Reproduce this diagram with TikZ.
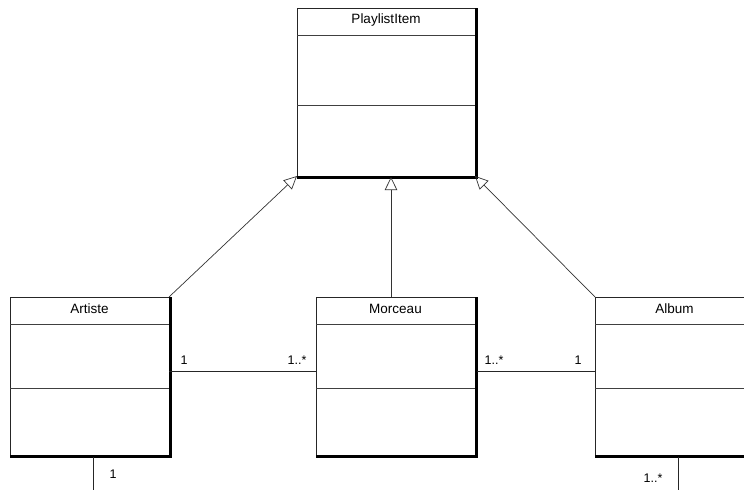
\documentclass[tikz,border=0pt]{standalone}
\usepackage{fontspec}
\setmainfont{Liberation Sans}
\usetikzlibrary{arrows.meta,calc}
\tikzset{
  cls/.style={draw=black!85, line width=0.8pt, fill=white, inner sep=0pt, outer sep=0pt,
              anchor=north west, minimum width=159pt, minimum height=158pt},
  shadowline/.style={line width=3pt, black},
  sepline/.style={draw=black!75, line width=0.8pt},
  title/.style={font=\fontsize{13.5}{15}\selectfont, inner sep=0pt, anchor=center},
  mult/.style={font=\fontsize{12.5}{14}\selectfont, inner sep=0pt},
  gen/.style={draw=black!80, line width=0.7pt, -{Triangle[open, length=13pt, width=12.5pt]}},
  assoc/.style={draw=black!85, line width=0.8pt}
}
% one class box: name, top-left corner, width, height, title, two compartment separators
\newcommand{\umlbox}[7]{%
  \node[cls, minimum width=#3pt, minimum height=#4pt] (#1) at (#2) {};
  \node[title] (#1-t) at ($(#1.north)+(0,-12pt)$) {#5};
  \draw[sepline] ($(#1.north west)+(0,-#6pt)$) -- ($(#1.north east)+(0,-#6pt)$);
  \draw[sepline] ($(#1.north west)+(0,-#7pt)$) -- ($(#1.north east)+(0,-#7pt)$);
  \draw[shadowline] ($(#1.north east)+(1pt,0)$) -- ($(#1.south east)+(1pt,-1pt)$)
                    -- ($(#1.south west)+(0,-1pt)$);
}
\begin{document}
\begin{tikzpicture}[x=1pt,y=-1pt]
\useasboundingbox (0,0) rectangle (744,490);
\clip (0,0) rectangle (744,490);

\umlbox{pl}{297,8}{178}{168}{PlaylistItem}{27}{97}
\umlbox{art}{10,297}{159}{158}{Artiste}{27}{91}
\umlbox{mor}{316,297}{159}{158}{Morceau}{27}{91}
\umlbox{alb}{595,297}{159}{158}{Album}{27}{91}

% generalisations
\draw[gen] (art.north east) -- (pl.south west);
\draw[gen] ([xshift=-4.5pt]mor.north) -- ([xshift=5pt,yshift=-1pt]pl.south);
\draw[gen] (alb.north west) -- (pl.south east);

% associations
\draw[assoc] ([yshift=5pt]art.east) -- ([yshift=5pt]mor.west);
\draw[assoc] ([xshift=2pt,yshift=5pt]mor.east) -- ([yshift=5pt]alb.west);

\coordinate (artdown) at (93,490);
\coordinate (albdown) at (678,490);
\draw[assoc] ([xshift=3.5pt,yshift=-2pt]art.south) -- (artdown);
\draw[assoc] ([xshift=3.5pt,yshift=-2pt]alb.south) -- (albdown);

% multiplicities
\node[mult] (m1) at (184,360) {1};
\node[mult] (m2) at (297,360) {1..*};
\node[mult] (m3) at (494,360) {1..*};
\node[mult] (m4) at (578,360) {1};
\node[mult] (m5) at (113,474) {1};
\node[mult] (m6) at (653,478) {1..*};
\end{tikzpicture}
\end{document}
